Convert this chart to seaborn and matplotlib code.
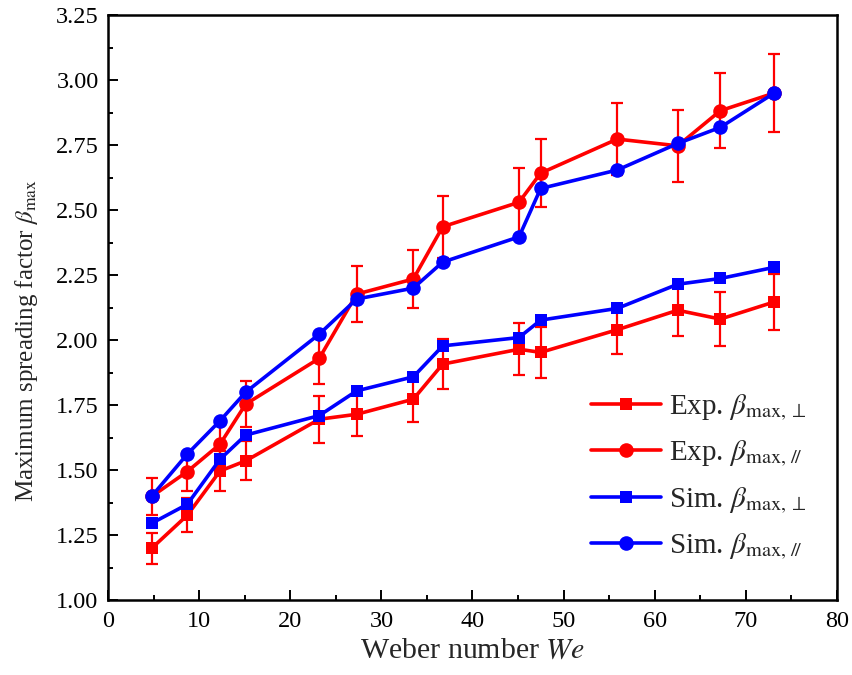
import matplotlib
matplotlib.use("Agg")
import matplotlib.pyplot as plt
import seaborn as sns
import pandas as pd
from matplotlib.ticker import MultipleLocator, FormatStrFormatter

# Weber numbers shared by all four series
we = [4.77, 8.68, 12.27, 15.09, 23.17, 27.28, 33.50, 36.73, 45.11, 47.49,
      55.90, 62.54, 67.22, 73.15]

# Experimental maximum spreading factor (perpendicular / parallel) with errors
exp_perp = [1.200, 1.327, 1.497, 1.536, 1.696, 1.715, 1.773, 1.908, 1.965,
            1.953, 2.040, 2.115, 2.081, 2.147]
exp_perp_err = [0.060, 0.065, 0.075, 0.075, 0.090, 0.085, 0.088, 0.097, 0.100,
                0.097, 0.095, 0.100, 0.105, 0.107]
exp_par = [1.399, 1.495, 1.600, 1.754, 1.930, 2.177, 2.235, 2.436, 2.530,
           2.642, 2.773, 2.747, 2.882, 2.950]
exp_par_err = [0.070, 0.075, 0.080, 0.088, 0.097, 0.107, 0.110, 0.120, 0.130,
               0.130, 0.140, 0.139, 0.145, 0.150]

# Simulated maximum spreading factor
sim_perp = [1.296, 1.369, 1.542, 1.635, 1.710, 1.805, 1.859, 1.978, 2.010,
            2.077, 2.122, 2.215, 2.237, 2.280]
sim_par = [1.400, 1.562, 1.690, 1.800, 2.023, 2.158, 2.200, 2.300, 2.397,
           2.583, 2.654, 2.756, 2.818, 2.950]

labels = [r"Exp. $\beta_{\mathrm{max},\perp}$",
          r"Exp. $\beta_{\mathrm{max},\,/\!/}$",
          r"Sim. $\beta_{\mathrm{max},\perp}$",
          r"Sim. $\beta_{\mathrm{max},\,/\!/}$"]

sns.set_theme(style="white")
plt.rcParams["font.family"] = ["Liberation Serif", "DejaVu Serif"]
plt.rcParams["mathtext.fontset"] = "stix"

fig = plt.figure(figsize=(8.52, 6.75), dpi=100)
ax = fig.add_axes([0.1271, 0.1107, 0.8549, 0.8671])

RED = "#ff0000"
BLUE = "#0000ff"
series = [
    (exp_perp, exp_perp_err, RED, "s", 9, labels[0]),
    (exp_par, exp_par_err, RED, "o", 10.5, labels[1]),
    (sim_perp, None, BLUE, "s", 9, labels[2]),
    (sim_par, None, BLUE, "o", 10.5, labels[3]),
]

z = 2
for vals, err, color, marker, ms, lab in series:
    df = pd.DataFrame({"We": we, "beta": vals})
    sns.lineplot(data=df, x="We", y="beta", ax=ax, color=color, marker=marker,
                 markersize=ms, markeredgewidth=0, linewidth=2.6,
                 label=lab, zorder=z, sort=False)
    if err is not None:
        ax.errorbar(we, vals, yerr=err, fmt="none", ecolor=color,
                    elinewidth=1.6, capsize=4, capthick=1.6, zorder=z + 0.5)
    z += 1

ax.set_xlim(0, 80)
ax.set_ylim(1.0, 3.25)
ax.xaxis.set_major_locator(MultipleLocator(10))
ax.xaxis.set_minor_locator(MultipleLocator(5))
ax.yaxis.set_major_locator(MultipleLocator(0.25))
ax.yaxis.set_minor_locator(MultipleLocator(0.125))
ax.yaxis.set_major_formatter(FormatStrFormatter("%.2f"))

ax.tick_params(which="both", direction="in", bottom=True, left=True,
               top=False, right=False, colors="black", width=1.4,
               labelsize=17.5)
ax.tick_params(which="major", length=7)
ax.tick_params(which="minor", length=3.5)
ax.tick_params(axis="x", pad=8)
ax.tick_params(axis="y", pad=7)

for sp in ax.spines.values():
    sp.set_color("black")
    sp.set_linewidth(1.8)

ax.set_xlabel(r"Weber number $\mathit{We}$", fontsize=21.5, labelpad=4)
ax.set_ylabel(r"Maximum spreading factor $\beta_{\mathrm{max}}$", fontsize=18)
ax.yaxis.set_label_coords(-0.094, 0.443)

leg = ax.legend(loc="lower right", bbox_to_anchor=(0.975, 0.045), frameon=False,
                fontsize=21, handlelength=2.4, handletextpad=0.3,
                labelspacing=0.55, borderaxespad=0)

fig.savefig("out.png", dpi=100)
